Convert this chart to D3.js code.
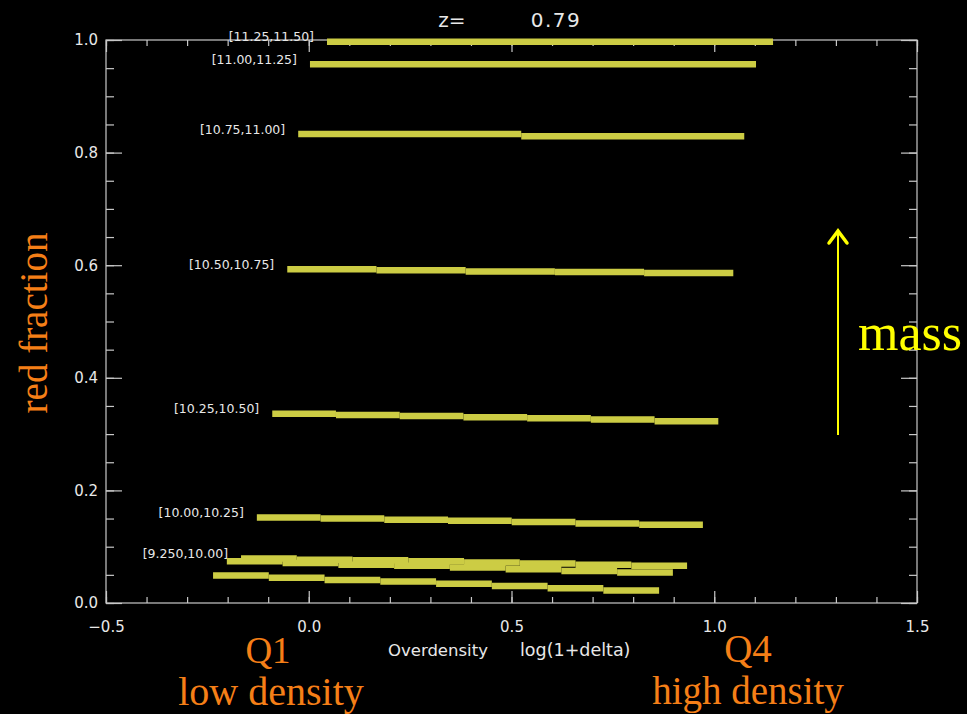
<!DOCTYPE html>
<html><head><meta charset="utf-8">
<script src="https://cdn.jsdelivr.net/npm/d3@7"></script>
<style>html,body{margin:0;padding:0;background:#000;overflow:hidden}</style>
</head><body>
<svg id="c" width="967" height="714"></svg>
<script>
// ---- data ----
const massBins = ["[11.25,11.50]","[11.00,11.25]","[10.75,11.00]","[10.50,10.75]","[10.25,10.50]","[10.00,10.25]","[9.250,10.00]","",""];
const densStart = [0.045, 0.003, -0.026, -0.053, -0.090, -0.128, -0.167, -0.202, -0.236];
const densEnd   = [1.145, 1.103, 1.074, 1.047, 1.010, 0.972, 0.933, 0.898, 0.864];
const frac1 = [0.997];
const frac2 = [0.957];
const frac3 = [0.833, 0.829];
const frac4 = [0.593, 0.591, 0.589, 0.588, 0.586];
const frac5 = [0.336, 0.334, 0.332, 0.330, 0.328, 0.326, 0.323];
const frac6 = [0.152, 0.150, 0.148, 0.146, 0.144, 0.141, 0.139];
const frac7 = [0.079, 0.077, 0.076, 0.074, 0.072, 0.070, 0.068, 0.066];
const frac8 = [0.074, 0.071, 0.068, 0.066, 0.063, 0.060, 0.057, 0.054];
const frac9 = [0.049, 0.045, 0.041, 0.038, 0.034, 0.030, 0.026, 0.022];
const fracs = [frac1, frac2, frac3, frac4, frac5, frac6, frac7, frac8, frac9];
const xTickVals = [-0.5, 0.0, 0.5, 1.0, 1.5];
const yTickVals = [0.0, 0.2, 0.4, 0.6, 0.8, 1.0];
const redshift = "0.79";

// ---- drawing ----
const svg = d3.select("#c");
svg.append("rect").attr("width",967).attr("height",714).attr("fill","#000");
const x = d3.scaleLinear().domain([-0.5,1.5]).range([106,917]);
const y = d3.scaleLinear().domain([0,1]).range([603,40]);
const axCol = "#c8c8c8", txtCol = "#e8e8e8";
const barCol = "#cccc44";

// frame
svg.append("rect").attr("x",x(-0.5)).attr("y",y(1)).attr("width",x(1.5)-x(-0.5)).attr("height",y(0)-y(1))
  .attr("fill","none").attr("stroke",axCol).attr("stroke-width",1.2);

function styleAxis(g){ g.select(".domain").remove(); g.selectAll("line").attr("stroke",axCol).attr("stroke-width",1.2); }
const fmt = d3.format(".1f");
// bottom axis
svg.append("g").attr("transform",`translate(0,${y(0)})`)
  .call(d3.axisBottom(x).tickValues(x.ticks(20)).tickSize(-6).tickFormat("")).call(styleAxis);
svg.append("g").attr("transform",`translate(0,${y(0)})`)
  .call(d3.axisBottom(x).tickValues(xTickVals).tickSize(-12).tickPadding(18).tickFormat(fmt)).call(styleAxis)
  .selectAll("text").attr("fill",txtCol).attr("font-family","DejaVu Sans").attr("font-size",15);
// top axis
svg.append("g").attr("transform",`translate(0,${y(1)})`)
  .call(d3.axisTop(x).tickValues(x.ticks(20)).tickSize(-6).tickFormat("")).call(styleAxis);
svg.append("g").attr("transform",`translate(0,${y(1)})`)
  .call(d3.axisTop(x).tickValues(xTickVals).tickSize(-12).tickFormat("")).call(styleAxis);
// left axis
svg.append("g").attr("transform",`translate(${x(-0.5)},0)`)
  .call(d3.axisLeft(y).tickValues(y.ticks(20)).tickSize(-8).tickFormat("")).call(styleAxis);
svg.append("g").attr("transform",`translate(${x(-0.5)},0)`)
  .call(d3.axisLeft(y).tickValues(yTickVals).tickSize(-16).tickPadding(8).tickFormat(fmt)).call(styleAxis)
  .selectAll("text").attr("fill",txtCol).attr("font-family","DejaVu Sans").attr("font-size",15);
// right axis
svg.append("g").attr("transform",`translate(${x(1.5)},0)`)
  .call(d3.axisRight(y).tickValues(y.ticks(20)).tickSize(-8).tickFormat("")).call(styleAxis);
svg.append("g").attr("transform",`translate(${x(1.5)},0)`)
  .call(d3.axisRight(y).tickValues(yTickVals).tickSize(-16).tickFormat("")).call(styleAxis);

// step lines
fracs.forEach((vals,i)=>{
  const n = vals.length, x0 = densStart[i], x1 = densEnd[i], w = (x1-x0)/n;
  const g = svg.append("g");
  g.selectAll("line").data(vals).join("line")
    .attr("x1",(d,k)=>x(x0+k*w)).attr("x2",(d,k)=>x(x0+(k+1)*w))
    .attr("y1",d=>y(d)).attr("y2",d=>y(d))
    .attr("stroke",barCol).attr("stroke-width",6.5).attr("stroke-linecap","butt");
  if(massBins[i]){
    svg.append("text").attr("x",x(x0)-13).attr("y",y(vals[0])-4)
      .attr("text-anchor","end").attr("dominant-baseline","middle")
      .attr("fill",txtCol).attr("font-family","DejaVu Sans").attr("font-size",12.5)
      .text(massBins[i]);
  }
});

// title
svg.append("text").attr("x",452).attr("y",27).attr("text-anchor","middle").attr("fill",txtCol)
  .attr("font-family","DejaVu Sans").attr("font-size",20).text("z=");
svg.append("text").attr("x",556).attr("y",27).attr("text-anchor","middle").attr("fill",txtCol)
  .attr("font-family","DejaVu Sans").attr("font-size",20).attr("letter-spacing",1.5).text(redshift);

// x axis title
svg.append("text").attr("x",388).attr("y",656).attr("fill",txtCol)
  .attr("font-family","DejaVu Sans").attr("font-size",16.5).text("Overdensity");
svg.append("text").attr("x",520).attr("y",656).attr("fill",txtCol)
  .attr("font-family","DejaVu Sans").attr("font-size",17.5).text("log(1+delta)");

// y axis title
const orange = "#f57f17";
svg.append("text").attr("transform","translate(47,323) rotate(-90)").attr("text-anchor","middle")
  .attr("fill",orange).attr("font-family","Liberation Serif").attr("font-size",39).text("red fraction");

// bottom annotations
const ann = [["Q1",268,663,37],["low density",271,705,40],["Q4",748,662,39],["high density",748,704,39]];
ann.forEach(a=>svg.append("text").attr("x",a[1]).attr("y",a[2]).attr("text-anchor","middle")
  .attr("fill",orange).attr("font-family","Liberation Serif").attr("font-size",a[3]).text(a[0]));

// mass arrow
const yel = "#ffff00";
svg.append("line").attr("x1",838).attr("x2",838).attr("y1",435).attr("y2",230).attr("stroke",yel).attr("stroke-width",2);
svg.append("path").attr("d","M829,243 L838,231 L847,243").attr("fill","none").attr("stroke",yel)
  .attr("stroke-width",3.5).attr("stroke-linecap","round").attr("stroke-linejoin","miter");
svg.append("text").attr("x",858).attr("y",350).attr("fill",yel).attr("font-family","Liberation Serif")
  .attr("font-size",52).text("mass");
</script>
</body></html>
